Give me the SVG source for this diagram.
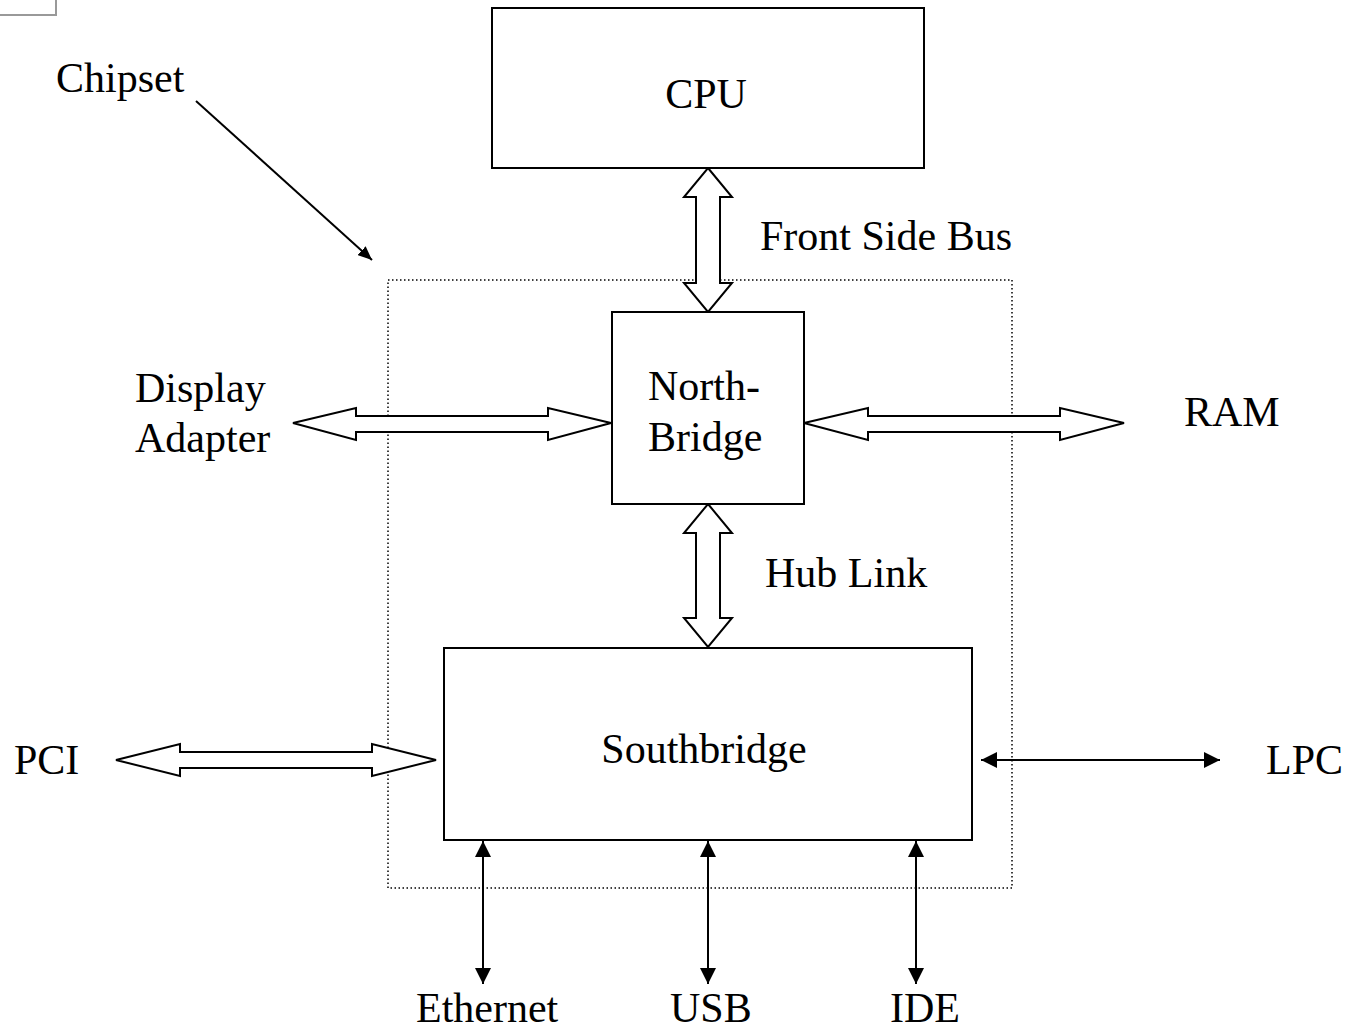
<svg xmlns="http://www.w3.org/2000/svg" width="1350" height="1032" viewBox="0 0 1350 1032">
<style>
text{font-family:"Liberation Serif","Times New Roman",serif;font-size:42px;fill:#000}
.box{fill:#fff;stroke:#000;stroke-width:2}
.fat{fill:#fff;stroke:#000;stroke-width:2;stroke-linejoin:miter}
.thin{stroke:#000;stroke-width:2;fill:none}
</style>
<defs>
<marker id="ah" viewBox="0 0 16 16" refX="16" refY="8" markerWidth="16" markerHeight="16" markerUnits="userSpaceOnUse" orient="auto-start-reverse">
<path d="M0,0 L16,8 L0,16 Z" fill="#000"/>
</marker>
<marker id="ahs" viewBox="0 0 14 12" refX="14" refY="6" markerWidth="14" markerHeight="12" markerUnits="userSpaceOnUse" orient="auto">
<path d="M0,0 L14,6 L0,12 Z" fill="#000"/>
</marker>
</defs>
<rect width="1350" height="1032" fill="#fff"/>
<g id="corner"><rect x="-2" y="-2" width="58" height="17" fill="#fff" stroke="#999" stroke-width="2"/></g>
<g id="chipset-region"><rect x="388" y="280" width="624" height="608" fill="none" stroke="#000" stroke-width="1.5" stroke-dasharray="1.5,2.5"/></g>
<g id="connectors">
<line class="thin" x1="196" y1="101" x2="372" y2="260" marker-end="url(#ahs)"/>
<polygon class="fat" points="708,168 732,197 720,197 720,283 732,283 708,312 684,283 696,283 696,197 684,197"/>
<polygon class="fat" points="708,504 732,533 720,533 720,618 732,618 708,647 684,618 696,618 696,533 684,533"/>
<polygon class="fat" points="293,423 356,408 356,416 548,416 548,408 611,423 548,440 548,432 356,432 356,440"/>
<polygon class="fat" points="804,423 868,408 868,416 1060,416 1060,408 1124,423 1060,440 1060,432 868,432 868,440"/>
<polygon class="fat" points="116,760 180,744 180,752 372,752 372,744 436,760 372,776 372,768 180,768 180,776"/>
<line class="thin" x1="981" y1="760" x2="1220" y2="760" marker-start="url(#ah)" marker-end="url(#ah)"/>
<line class="thin" x1="483" y1="841" x2="483" y2="984" marker-start="url(#ah)" marker-end="url(#ah)"/>
<line class="thin" x1="708" y1="841" x2="708" y2="984" marker-start="url(#ah)" marker-end="url(#ah)"/>
<line class="thin" x1="916" y1="841" x2="916" y2="984" marker-start="url(#ah)" marker-end="url(#ah)"/>
</g>
<g id="cpu"><rect class="box" x="492" y="8" width="432" height="160"/><text x="706" y="108" text-anchor="middle">CPU</text></g>
<g id="northbridge"><rect class="box" x="612" y="312" width="192" height="192"/><text x="648" y="400">North-</text><text x="648" y="451">Bridge</text></g>
<g id="southbridge"><rect class="box" x="444" y="648" width="528" height="192"/><text x="704" y="763" text-anchor="middle">Southbridge</text></g>
<g id="labels">
<text x="56" y="92">Chipset</text>
<text x="760" y="250">Front Side Bus</text>
<text x="135" y="402">Display</text>
<text x="135" y="452">Adapter</text>
<text x="1184" y="426">RAM</text>
<text x="765" y="587">Hub Link</text>
<text x="14" y="774">PCI</text>
<text x="1266" y="774">LPC</text>
<text x="416" y="1022">Ethernet</text>
<text x="670" y="1022">USB</text>
<text x="890" y="1022">IDE</text>
</g>
</svg>
